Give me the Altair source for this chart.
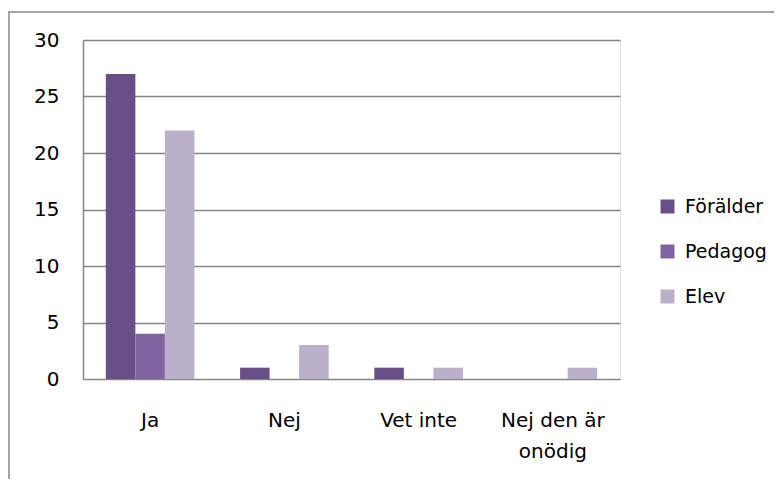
import altair as alt
import pandas as pd

categories = ["Ja", "Nej", "Vet inte", "Nej den är onödig"]
series = ["Förälder", "Pedagog", "Elev"]
foralder = [27, 1, 1, 0]
pedagog = [4, 0, 0, 0]
elev = [22, 3, 1, 1]
colors = ["#684F88", "#8064A2", "#BAB0CA"]

rows = []
for i, c in enumerate(categories):
    for s, vals in zip(series, [foralder, pedagog, elev]):
        rows.append({"Svar": c, "Grupp": s, "Antal": vals[i]})
df = pd.DataFrame(rows)

FONT = "DejaVu Sans"
FS = 20

bars = alt.Chart(df).mark_bar().encode(
    x=alt.X("Svar:N", sort=categories, title=None,
            scale=alt.Scale(paddingInner=0.34, paddingOuter=0.17),
            axis=alt.Axis(labelAngle=0, ticks=False, domain=False, labelPadding=31,
                          labelFontSize=FS, labelLineHeight=31, labelFont=FONT,
                          labelColor="#000000",
                          labelExpr="datum.label == 'Nej den är onödig' ? ['Nej den är', 'onödig'] : datum.label")),
    xOffset=alt.XOffset("Grupp:N", sort=series),
    y=alt.Y("Antal:Q", title=None,
            scale=alt.Scale(domain=[0, 30]),
            axis=alt.Axis(values=[0, 5, 10, 15, 20, 25, 30], ticks=False, domain=True,
                          domainColor="#868686", domainWidth=1.5,
                          gridColor="#868686", gridWidth=1.5,
                          labelPadding=24, labelFontSize=FS, labelFont=FONT,
                          labelColor="#000000")),
    color=alt.Color("Grupp:N", sort=series, title=None,
                    scale=alt.Scale(domain=series, range=colors),
                    legend=alt.Legend(orient="none", legendX=575, legendY=157,
                                      symbolType="square", symbolSize=196,
                                      symbolStrokeWidth=0,
                                      labelFontSize=19, labelFont=FONT,
                                      labelColor="#000000", rowPadding=25,
                                      labelOffset=8))
)

frame = alt.Chart(pd.DataFrame({"a": [0]})).mark_rect(
    fill=None, stroke="#888888", strokeWidth=1.5
).encode(x=alt.value(-74), x2=alt.value(720), y=alt.value(-28), y2=alt.value(520))

chart = alt.layer(frame, bars).properties(
    width=537, height=339,
    autosize=alt.AutoSizeParams(type="none"),
    padding={"left": 75, "top": 32, "right": 154, "bottom": 100},
).configure_view(stroke=None).configure(background="#ffffff")

chart.save("out.html", embed_options={"renderer": "svg", "actions": False})
